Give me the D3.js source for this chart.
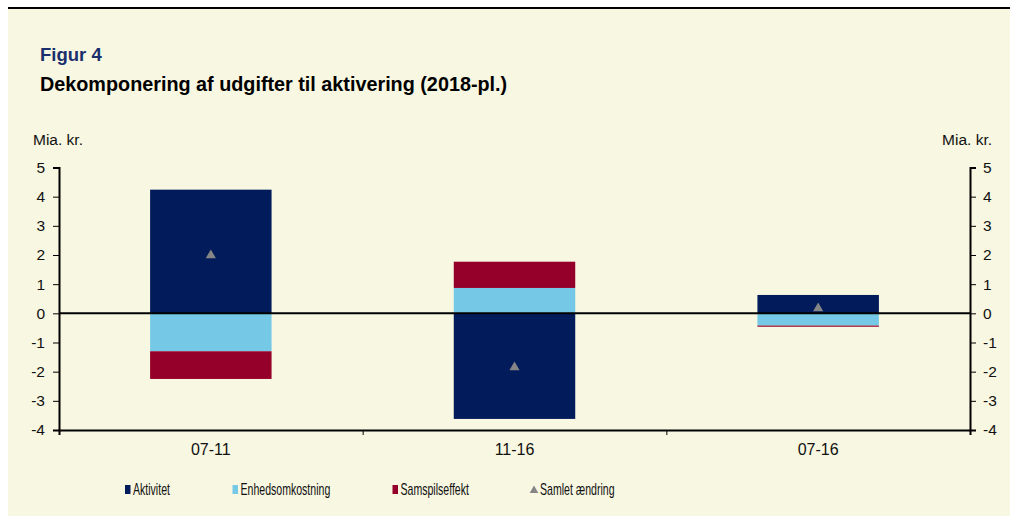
<!DOCTYPE html>
<html>
<head>
<meta charset="utf-8">
<script src="https://cdn.jsdelivr.net/npm/d3@7"></script>
<style>
  body { margin: 0; background: #fff; }
  svg { display: block; font-family: "Liberation Sans", Arial, sans-serif; }
</style>
</head>
<body>
<svg></svg>
<script>
// data
let periods = ['07-11', '11-16', '07-16']
let aktivitet = [4.24, -3.62, 0.63]
let enheds = [-1.30, 0.87, -0.42]
let samspil = [-0.95, 0.90, -0.04]
let samlet = [1.99, -1.85, 0.17]
let yTicks = [5, 4, 3, 2, 1, 0, -1, -2, -3, -4]

let seriesNames = ['Aktivitet', 'Enhedsomkostning', 'Samspilseffekt']
let seriesColors = ['#021c5b', '#75c9e6', '#95002b']

let width = 1010
let height = 516
let plotLeft = 59
let plotRight = 970
let plotTop = 167.5
let plotBottom = 430

let svg = d3.select('svg').attr('width', width).attr('height', height)

// background panel
svg.append('rect').attr('x', 8).attr('y', 8).attr('width', width - 8).attr('height', height - 8).attr('fill', '#f8f7e1')
svg.append('line').attr('x1', 8).attr('x2', width).attr('y1', 8).attr('y2', 8).attr('stroke', '#000').attr('stroke-width', 2)

svg.append('text').attr('x', 40).attr('y', 61).text('Figur 4')
    .attr('font-size', 18.5).attr('font-weight', 'bold').attr('fill', '#1a2f6d')
svg.append('text').attr('x', 40).attr('y', 91).text('Dekomponering af udgifter til aktivering (2018-pl.)')
    .attr('font-size', 19.8).attr('font-weight', 'bold').attr('fill', '#000')

let xScale = d3.scaleBand().domain(periods).range([plotLeft, plotRight]).paddingInner(0.6).paddingOuter(0.3)
let yScale = d3.scaleLinear().domain([-4, 5]).range([plotBottom, plotTop])

// stacked bars: positives up, negatives down from zero
let data = periods.map((p, i) => ({ period: p, vals: [aktivitet[i], enheds[i], samspil[i]] }))
data.forEach(d => {
    let pos = 0, neg = 0
    d.vals.forEach((v, k) => {
        let y0, y1
        if (v >= 0) { y0 = pos; y1 = pos + v; pos = y1 }
        else { y0 = neg; y1 = neg + v; neg = y1 }
        svg.append('rect')
            .attr('x', xScale(d.period))
            .attr('width', xScale.bandwidth())
            .attr('y', yScale(Math.max(y0, y1)))
            .attr('height', Math.abs(yScale(y0) - yScale(y1)))
            .attr('fill', seriesColors[k])
    })
})

// total markers
let tri = d3.symbol().type(d3.symbolTriangle).size(45)
svg.selectAll('.tot').data(periods).enter().append('path')
    .attr('class', 'tot')
    .attr('d', tri)
    .attr('fill', '#858585')
    .attr('transform', (p, i) => 'translate(' + (xScale(p) + xScale.bandwidth() / 2) + ',' + yScale(samlet[i]) + ')')

// zero line
svg.append('line').attr('x1', plotLeft).attr('x2', plotRight).attr('y1', yScale(0)).attr('y2', yScale(0))
    .attr('stroke', '#000').attr('stroke-width', 2)

// axes
let yLeft = d3.axisLeft(yScale).tickValues(yTicks).tickSize(6).tickPadding(8).tickFormat(d => String(d))
let yRight = d3.axisRight(yScale).tickValues(yTicks).tickSize(6).tickPadding(7).tickFormat(d => String(d))
let gl = svg.append('g').attr('transform', 'translate(' + plotLeft + ',0)').call(yLeft)
let gr = svg.append('g').attr('transform', 'translate(' + plotRight + ',0)').call(yRight)

let xEdge = d3.scaleLinear().domain([0, 3]).range([plotLeft, plotRight])
let xAxis = d3.axisBottom(xEdge).tickValues([0, 1, 2, 3]).tickSize(5).tickFormat('')
let gx = svg.append('g').attr('transform', 'translate(0,' + plotBottom + ')').call(xAxis)

;[gl, gr, gx].forEach(g => {
    g.select('.domain').attr('stroke', '#000').attr('stroke-width', 2)
    g.selectAll('.tick line').attr('stroke', '#000')
    g.selectAll('.tick text').attr('font-size', 15.5).attr('fill', '#111')
        .style('font-family', '"Liberation Sans", Arial, sans-serif')
})

svg.selectAll('.plabel').data(periods).enter().append('text')
    .attr('x', p => xScale(p) + xScale.bandwidth() / 2)
    .attr('y', 455)
    .attr('text-anchor', 'middle')
    .attr('font-size', 16)
    .attr('fill', '#111')
    .text(p => p)

svg.append('text').attr('x', 33).attr('y', 145).attr('font-size', 15.5).attr('fill', '#111').text('Mia. kr.')
svg.append('text').attr('x', 992).attr('y', 145).attr('font-size', 15.5).attr('fill', '#111').attr('text-anchor', 'end').text('Mia. kr.')

// legend (condensed text in the original, so squeeze horizontally)
let legX = [125, 232.5, 392.5, 531]
let legend = svg.append('g')
let legText = (x, s) => legend.append('text')
    .attr('transform', 'translate(' + x + ',495) scale(0.66,1)')
    .attr('font-size', 16).attr('fill', '#111').text(s)
seriesNames.forEach((n, k) => {
    legend.append('rect').attr('x', legX[k]).attr('y', 485).attr('width', 5.5).attr('height', 9).attr('fill', seriesColors[k])
    legText(legX[k] + 8, n)
})
legend.append('path').attr('d', d3.symbol().type(d3.symbolTriangle).size(32))
    .attr('transform', 'translate(' + (legX[3] + 3) + ',490.5)').attr('fill', '#858585')
legText(legX[3] + 9, 'Samlet ændring')
</script>
</body>
</html>
